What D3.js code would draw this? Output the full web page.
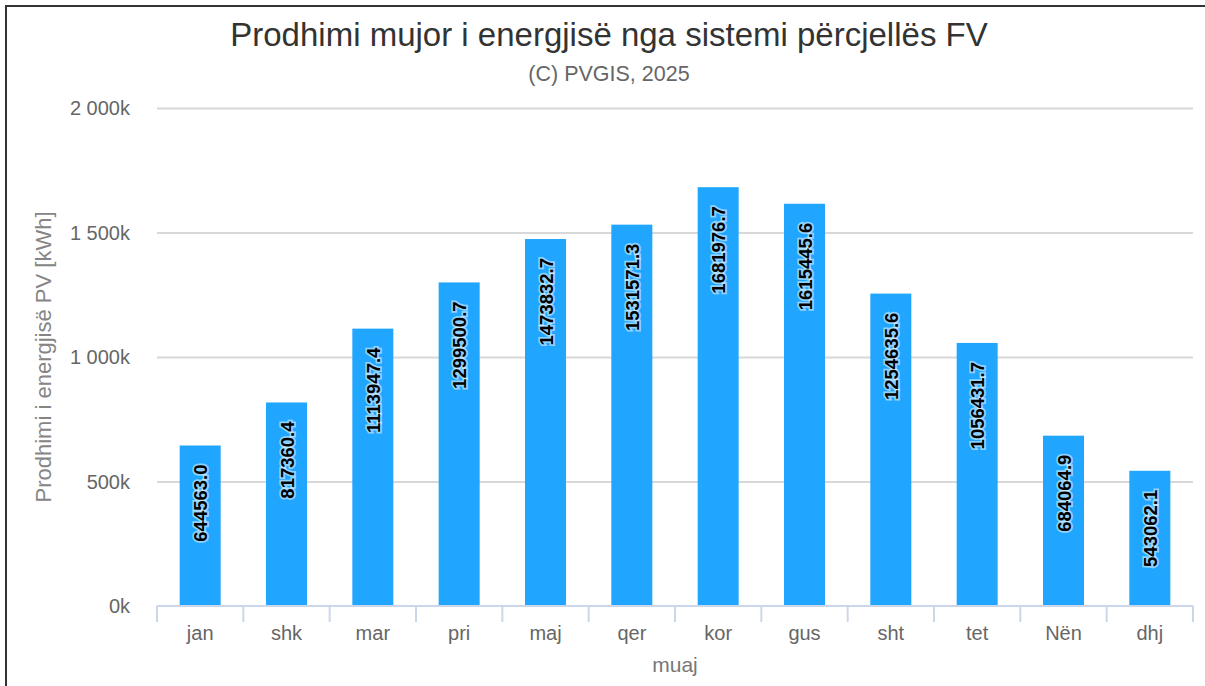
<!DOCTYPE html>
<meta charset="utf-8">
<title>Prodhimi mujor</title>
<style>
  body { margin: 0; background: #fff; }
  svg { font-family: "Liberation Sans", Arial, Helvetica, sans-serif; display: block; }
  .grid line { stroke: #d8d8d8; stroke-width: 2; }
  .grid .domain { display: none; }
  .xaxis .domain, .xaxis line { stroke: #ccd6eb; stroke-width: 2; }
  .xaxis text, .yaxis text { fill: #666; font-size: 20px; }
  .barlabel { font-weight: bold; font-size: 18.5px; fill: #000;
              stroke: rgba(255,255,255,0.5); stroke-width: 3.5px; paint-order: stroke; }
</style>
<body>
<svg width="1205" height="686"></svg>
<script src="https://cdnjs.cloudflare.com/ajax/libs/d3/7.8.5/d3.min.js"></script>
<script>
// monthly production values
var months = ["jan", "shk", "mar", "pri", "maj", "qer", "kor", "gus", "sht", "tet", "Nën", "dhj"];
var energy = [644563.0, 817360.4, 1113947.4, 1299500.7, 1473832.7, 1531571.3,
              1681976.7, 1615445.6, 1254635.6, 1056431.7, 684064.9, 543062.1];
var yTicks = [0, 500000, 1000000, 1500000, 2000000];

var svg = d3.select("svg");
var plotLeft = 157, plotRight = 1193, plotTop = 108, plotBottom = 606;

// outer frame
svg.append("rect")
    .attr("x", 6).attr("y", 6)
    .attr("width", 1300).attr("height", 800)
    .attr("fill", "none").attr("stroke", "#333").attr("stroke-width", 2);

var x = d3.scaleBand().domain(months).range([plotLeft, plotRight]).padding(0);
var y = d3.scaleLinear().domain([0, 2000000]).range([plotBottom, plotTop]);

function fmt(v) { return d3.format(",")(v / 1000).replace(/,/g, " ") + "k"; }

// grid
svg.append("g")
    .attr("class", "grid")
    .attr("transform", "translate(" + plotLeft + ",0)")
    .call(d3.axisLeft(y).tickValues(yTicks.slice(1)).tickSize(-(plotRight - plotLeft)).tickFormat(""));

// y labels
svg.append("g")
    .attr("class", "yaxis")
    .selectAll("text")
    .data(yTicks)
    .enter().append("text")
    .attr("x", 130)
    .attr("y", function(d) { return y(d) + 7; })
    .attr("text-anchor", "end")
    .text(fmt);

// bars
svg.append("g").selectAll("rect")
    .data(energy)
    .enter().append("rect")
    .attr("x", function(d, i) { return x(months[i]) + (x.bandwidth() - 41) / 2; })
    .attr("width", 41)
    .attr("y", function(d) { return y(d); })
    .attr("height", function(d) { return plotBottom - y(d); })
    .attr("fill", "#21a6ff");

// bar labels
svg.append("g").selectAll("text")
    .data(energy)
    .enter().append("text")
    .attr("class", "barlabel")
    .attr("text-anchor", "end")
    .attr("transform", function(d, i) {
        var cx = x(months[i]) + x.bandwidth() / 2 + 7;
        return "translate(" + cx + "," + (y(d) + 19) + ") rotate(-90)";
    })
    .text(function(d) { return d.toFixed(1); });

// x axis
var xa = svg.append("g")
    .attr("class", "xaxis")
    .attr("transform", "translate(0," + plotBottom + ")")
    .call(d3.axisBottom(x).tickSize(0).tickPadding(0));
xa.selectAll(".tick text").attr("y", 34).attr("dy", 0);
xa.selectAll(".tickb")
    .data(d3.range(months.length + 1))
    .enter().append("line")
    .attr("x1", function(i) { return plotLeft + i * x.step(); })
    .attr("x2", function(i) { return plotLeft + i * x.step(); })
    .attr("y1", 0).attr("y2", 16);
xa.select(".domain").attr("d", "M" + plotLeft + ",0H" + plotRight);

// titles
svg.append("text")
    .attr("x", 609).attr("y", 46)
    .attr("text-anchor", "middle")
    .attr("fill", "#333").attr("font-size", 33)
    .text("Prodhimi mujor i energjisë nga sistemi përcjellës FV");
svg.append("text")
    .attr("x", 609).attr("y", 81)
    .attr("text-anchor", "middle")
    .attr("fill", "#666").attr("font-size", 21.5)
    .text("(C) PVGIS, 2025");
svg.append("text")
    .attr("transform", "translate(51,357) rotate(-90)")
    .attr("text-anchor", "middle")
    .attr("fill", "#858585").attr("font-size", 22)
    .text("Prodhimi i energjisë PV [kWh]");
svg.append("text")
    .attr("x", 675).attr("y", 672)
    .attr("text-anchor", "middle")
    .attr("fill", "#777").attr("font-size", 21)
    .text("muaj");
</script>
</body>
